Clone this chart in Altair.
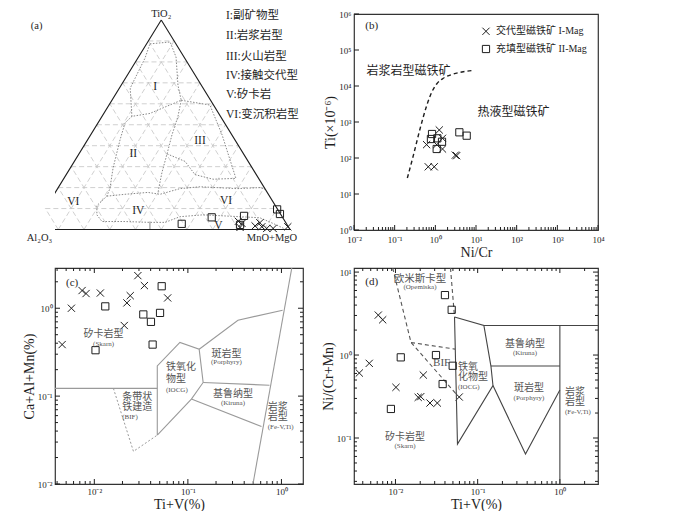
import math
import altair as alt
import pandas as pd

SERIF = "Liberation Serif, Noto Sans CJK SC, serif"
INK = "#1e1e1e"
MID = "#555555"
CROSS = "M-1,-1L1,1M-1,1L1,-1"
SQ3 = math.sqrt(3) / 2
WL, WR, HH = 248, 244, 216

# ---------------- (a) ternary TiO2 - Al2O3 - (MnO+MgO) ----------------
A_GRID = [10, 20, 30, 40, 50, 60, 70, 80, 90]
# field boundaries as (TiO2 %, MnO+MgO %)
A_FIELD_I = [(88.6, 1.3), (89.5, 8.7), (82.3, 14.6), (68.8, 22.1), (61.7, 26.9), (58.5, 22.3),
             (55.4, 17.9), (54.0, 11.6), (67.5, 4.2), (81.8, 2.8), (88.6, 1.3)]
A_LINE_II_IV_V = [(54.0, 11.6), (50.9, 10.5), (42.8, 12.6), (29.4, 16.6), (19.5, 20.3), (15.9, 20.9),
                  (11.4, 19.3), (7.0, 21.5), (3.8, 25.1), (3.8, 34.0), (3.4, 43.9), (3.4, 49.8),
                  (6.1, 54.2), (7.0, 62.7), (6.1, 77.5), (5.6, 85.5), (2.5, 92.9), (0.2, 98.0)]
A_LINE_IV_VI = [(15.9, 20.9), (16.8, 27.5), (17.7, 36.0), (16.8, 41.1), (19.5, 47.5), (20.4, 54.8),
                (19.5, 69.7), (20.0, 78.3), (19.1, 80.9)]
A_LINE_II_III = [(61.7, 26.9), (54.0, 29.5), (45.1, 31.6), (36.1, 34.2), (27.1, 36.7), (17.7, 39.9)]
A_FIELD_III = [(61.7, 26.9), (59.4, 39.2), (45.1, 51.1), (24.4, 66.8), (24.0, 58.1), (26.2, 50.0),
               (32.5, 43.0), (36.1, 34.2)]
A_BASE_MARK = [(3.8, 43.7), (0.0, 45.6)]
A_REGION_TEXT = ["I", "II", "III", "IV", "V", "VI", "VI"]
A_REGION_TI = [67.9, 36.1, 42.1, 8.9, 1.7, 12.9, 13.7]
A_REGION_MM = [13.7, 21.1, 44.0, 36.6, 71.3, 9.4, 68.3]
A_SQ_TI = [2.7, 5.8, 6.5, 2.2, 9.6, 7.4]
A_SQ_MM = [56.6, 66.7, 78.9, 79.5, 90.2, 92.4]
A_X_TI = [3.9, 1.0, 2.9, 1.7, 3.2, 1.3, 0.5, 0.5, 1.3]
A_X_MM = [78.0, 80.1, 79.9, 85.6, 86.7, 88.4, 90.7, 93.2, 98.5]
A_NOTE_TEXT = ["TiO₂", "Al₂O₃", "MnO+MgO", "(a)"]
A_NOTE_X = [0.5, 0.027, 0.930, 0.016]
A_NOTE_Y = [0.8915, -0.0352, -0.0352, 0.8400]
A_LEG_TEXT = ["I:副矿物型", "II:岩浆岩型", "III:火山岩型", "IV:接触交代型", "V:矽卡岩", "VI:变沉积岩型"]
A_LEG_X = 0.7515
A_LEG_Y = [0.8838, 0.7986, 0.7130, 0.6357, 0.5559, 0.4733]

# ---------------- (b) Ni/Cr vs Ti ----------------
B_I_X = [0.61, 1.25, 1.08, 1.5, 1.5, 3.35, 3.1, 0.67, 0.94]
B_I_Y = [235, 600, 235, 352, 178, 116, 120, 57, 57]
B_II_X = [0.83, 0.78, 1.12, 1.46, 1.08, 3.9, 5.9]
B_II_Y = [464, 337, 352, 283, 178, 517, 417]
B_CURVE_X = [0.205, 0.287, 0.42, 0.613, 0.814, 1.08, 1.57, 2.77, 4.87, 8.93]
B_CURVE_Y = [27.8, 116, 640, 2840, 6680, 11370, 16400, 21500, 24900, 27300]
B_XTICKS = [0.01, 0.1, 1, 10, 100, 1000, 10000]
B_XLABELS = ["10⁻²", "10⁻¹", "10⁰", "10¹", "10²", "10³", "10⁴"]
B_YTICKS = [1, 10, 100, 1000, 10000, 100000, 1000000]
B_YLABELS = ["10⁰", "10¹", "10²", "10³", "10⁴", "10⁵", "10⁶"]
B_TEXT = ["(b)", "岩浆岩型磁铁矿", "热液型磁铁矿"]
B_TEXT_X = [0.0272, 0.219, 83.6]
B_TEXT_Y = [473000, 26600, 1900]
B_LEG_TEXT = ["交代型磁铁矿 I-Mag", "充填型磁铁矿 II-Mag"]
B_LEG_SYM_X = 17.6
B_LEG_TXT_X = 31.0
B_LEG_Y = [331000, 106600]

# ---------------- (c) Ti+V vs Ca+Al+Mn ----------------
C_I_X = [0.00453, 0.00569, 0.0074, 0.00816, 0.0116, 0.0209, 0.0223, 0.0242, 0.0292, 0.0343, 0.0608]
C_I_Y = [0.386, 1.0, 1.59, 1.47, 1.49, 0.636, 1.15, 1.39, 2.35, 1.81, 1.31]
C_II_X = [0.0131, 0.0103, 0.0334, 0.0403, 0.0504, 0.0525, 0.042]
C_II_Y = [1.05, 0.333, 0.85, 0.70, 0.885, 1.78, 0.386]
C_SOLID = [
    [(0.003, 0.1224), (0.0471, 0.1224)],
    [(0.0471, 0.036), (0.0471, 0.221), (0.0822, 0.408), (0.132, 0.342), (0.1456, 0.143),
     (0.109, 0.0925), (0.0471, 0.036)],
    [(0.132, 0.342), (0.343, 0.731), (1.03, 0.949)],
    [(0.1456, 0.143), (0.745, 0.133)],
    [(0.109, 0.0925), (0.612, 0.045)],
    [(0.496, 0.01), (1.29, 2.87)],
]
C_DOTTED = [[(0.016, 0.1224), (0.0262, 0.0235), (0.0471, 0.036)]]
C_XTICKS = [0.01, 0.1, 1]
C_XLABELS = ["10⁻²", "10⁻¹", "10⁰"]
C_YTICKS = [0.01, 0.1, 1]
C_YLABELS = ["10⁻²", "10⁻¹", "10⁰"]
C_CTEXT = [("(c)", 0.0058, 1.96, 11, INK), ("矽卡岩型", 0.01256, 0.507, 10, MID),
           ("(Skarn)", 0.01256, 0.395, 7, MID), ("斑岩型", 0.258, 0.300, 10, MID),
           ("(Porphyry)", 0.258, 0.2415, 7, MID), ("基鲁纳型", 0.303, 0.1054, 10, MID),
           ("(Kiruna)", 0.303, 0.0832, 7, MID)]
C_LTEXT = [("铁氧化", 0.0583, 0.212, 10), ("物型", 0.0583, 0.158, 10), ("(IOCG)", 0.0583, 0.117, 7),
           ("条带状", 0.0199, 0.0966, 10), ("铁建造", 0.0199, 0.0744, 10), ("(BIF)", 0.0199, 0.0573, 7),
           ("岩浆", 0.714, 0.0744, 10), ("岩型", 0.714, 0.0573, 10), ("(Fe-V,Ti)", 0.714, 0.0441, 7)]

# ---------------- (d) Ti+V vs Ni/(Cr+Mn) ----------------
D_I_X = [0.00363, 0.0048, 0.00618, 0.00699, 0.01014, 0.0218, 0.0189, 0.0203, 0.0263, 0.0323, 0.0597]
D_I_Y = [0.607, 0.794, 3.03, 2.66, 0.408, 0.574, 0.309, 0.315, 0.264, 0.264, 0.312]
D_II_X = [0.040, 0.0483, 0.0116, 0.0311, 0.0497, 0.0375, 0.0088]
D_II_Y = [5.28, 3.51, 0.938, 1.0, 0.743, 0.447, 0.224]
D_SOLID = [
    [(0.0523, 2.87), (0.119, 2.27), (0.145, 0.737), (0.1535, 0.429), (0.0568, 0.0847), (0.0523, 2.87)],
    [(0.119, 2.27), (3.5, 2.27)],
    [(0.145, 0.737), (1.0, 0.737)],
    [(1.0, 2.27), (1.0, 0.02)],
    [(0.1535, 0.429), (0.382, 0.0641), (1.0, 0.379)],
]
D_DASHED = [
    [(0.00925, 11.2), (0.01546, 1.415), (0.0537, 0.348)],
    [(0.01546, 1.415), (0.053, 1.18)],
    [(0.0467, 11.2), (0.0523, 2.87)],
]
D_XTICKS = [0.01, 0.1, 1]
D_XLABELS = ["10⁻²", "10⁻¹", "10⁰"]
D_YTICKS = [0.1, 1, 10]
D_YLABELS = ["10⁻¹", "10⁰", "10¹"]
D_CTEXT = [("(d)", 0.00513, 7.51, 11, INK), ("欧米斯卡型", 0.01986, 8.24, 10.5, MID),
           ("(Opemiska)", 0.01986, 6.6, 7, MID), ("基鲁纳型", 0.376, 1.357, 10, MID),
           ("(Kiruna)", 0.376, 1.057, 7, MID), ("BIF", 0.0365, 0.801, 11, MID),
           ("斑岩型", 0.421, 0.397, 10, MID), ("(Porphyry)", 0.421, 0.303, 7, MID),
           ("矽卡岩型", 0.01305, 0.102, 10, MID), ("(Skarn)", 0.01305, 0.0794, 7, MID)]
D_LTEXT = [("铁氧", 0.0575, 0.711, 10), ("化物型", 0.0575, 0.539, 10), ("(IOCG)", 0.0575, 0.408, 7),
           ("岩浆", 1.153, 0.361, 10), ("岩型", 1.153, 0.269, 10), ("(Fe-V,Ti)", 1.153, 0.204, 7)]


# ---------------- helpers ----------------
def label_expr(vals, labels):
    expr = "''"
    for v, lab in reversed(list(zip(vals, labels))):
        expr = f"(datum.value == {v!r} ? '{lab}' : {expr})"
    return expr


def log_axis(vals, labels, title, pad=3):
    return alt.Axis(values=vals, labelExpr=label_expr(vals, labels), ticks=False, domain=False,
                    grid=False, labelFont=SERIF, labelFontSize=9, labelColor=INK, labelPadding=pad,
                    labelFlush=False, labelOverlap=False, title=title, titleFont=SERIF,
                    titleFontSize=14, titleFontWeight="normal", titleColor=INK, titlePadding=1)


def decades(lo, hi):
    major, minor = [], []
    for k in range(-4, 8):
        for m in range(1, 10):
            v = float(f"{m}e{k}")
            if lo * 0.999 <= v <= hi * 1.001:
                (major if m == 1 else minor).append(v)
    return major, minor


class Panel:
    def __init__(self, xs, ys, xa, ya, W, H):
        self.xs, self.ys, self.xa, self.ya, self.W, self.H = xs, ys, xa, ya, W, H

    def X(self, f="x"):
        return alt.X(f"{f}:Q", scale=self.xs, axis=self.xa)

    def Y(self, f="y"):
        return alt.Y(f"{f}:Q", scale=self.ys, axis=self.ya)


def tick_layer(P, vals, ch, side, length):
    df = pd.DataFrame({"v": vals})
    base = alt.Chart(df).mark_rule(color=INK, strokeWidth=1)
    if ch == "x":
        enc = dict(x=P.X("v"))
        if side == "bottom":
            enc.update(y=alt.value(P.H), y2=alt.value(P.H - length))
        else:
            enc.update(y=alt.value(0), y2=alt.value(length))
    else:
        enc = dict(y=P.Y("v"))
        if side == "left":
            enc.update(x=alt.value(0), x2=alt.value(length))
        else:
            enc.update(x=alt.value(P.W), x2=alt.value(P.W - length))
    return base.encode(**enc)


def all_ticks(P, xdom, ydom, sides):
    xmaj, xmin = decades(*xdom)
    ymaj, ymin = decades(*ydom)
    out = []
    for side, minor in sides:
        if side in ("bottom", "top"):
            out.append(tick_layer(P, xmaj, "x", side, 5))
            if minor:
                out.append(tick_layer(P, xmin, "x", side, 3))
        else:
            out.append(tick_layer(P, ymaj, "y", side, 5))
            if minor:
                out.append(tick_layer(P, ymin, "y", side, 3))
    return out


def poly_df(lines):
    rows = []
    for i, pts in enumerate(lines):
        for j, (x, y) in enumerate(pts):
            rows.append({"seg": i, "o": j, "x": x, "y": y})
    return pd.DataFrame(rows)


def line_layer(P, lines, color, width, dash=None, interp=None):
    kw = dict(color=color, strokeWidth=width, clip=True)
    if dash:
        kw["strokeDash"] = dash
    if interp:
        kw["interpolate"] = interp
    return alt.Chart(poly_df(lines)).mark_line(**kw).encode(
        x=P.X(), y=P.Y(), detail="seg:N", order="o:Q")


def pts_layer(P, xv, yv, shape):
    df = pd.DataFrame({"x": xv, "y": yv})
    return alt.Chart(df).mark_point(shape=shape, size=52, filled=False, color=INK, strokeWidth=1,
                                    opacity=1).encode(x=P.X(), y=P.Y())


def text_layer(P, items, align, color=None):
    if color is not None:
        df = pd.DataFrame(items, columns=["t", "x", "y", "fs"])
        df["c"] = color
    else:
        df = pd.DataFrame(items, columns=["t", "x", "y", "fs", "c"])
    return alt.Chart(df).mark_text(align=align, baseline="middle", font=SERIF).encode(
        x=P.X(), y=P.Y(), text="t:N", size=alt.Size("fs:Q", scale=None, legend=None),
        color=alt.Color("c:N", scale=None, legend=None))


# ---------------- panel (a) ----------------
def tern(ti, mm):
    return mm / 100 + ti / 200, ti / 100 * SQ3


PA = Panel(alt.Scale(domain=[0.0874, 1.0505], nice=False, zero=False),
           alt.Scale(domain=[-0.0021, 0.8908], nice=False, zero=False), None, None, WL, HH)

grid_rows = []
for g in A_GRID:
    for p, q in ((tern(g, 0), tern(g, 100 - g)), (tern(0, g), tern(100 - g, g)),
                 (tern(0, 100 - g), tern(100 - g, 0))):
        grid_rows.append({"x": p[0], "y": p[1], "x2": q[0], "y2": q[1]})
a_grid = alt.Chart(pd.DataFrame(grid_rows)).mark_rule(
    color="#c4c4c4", strokeWidth=0.8, strokeDash=[5, 3]).encode(
    x=PA.X(), y=PA.Y(), x2="x2:Q", y2="y2:Q")


def tern_lines(lines):
    return [[tern(t, m) for t, m in pts] for pts in lines]


a_tri = line_layer(PA, [[tern(100, 0), tern(0, 0), tern(0, 100), tern(100, 0)]], INK, 1.1)
a_fields = line_layer(PA, tern_lines([A_FIELD_I, A_LINE_II_IV_V, A_LINE_IV_VI, A_LINE_II_III, A_FIELD_III]),
                      "#7a7a7a", 0.9, [1.5, 1.5])
a_mark = line_layer(PA, tern_lines([A_BASE_MARK]), "#999999", 1.2)
a_sq = pts_layer(PA, [tern(t, m)[0] for t, m in zip(A_SQ_TI, A_SQ_MM)],
                 [tern(t, m)[1] for t, m in zip(A_SQ_TI, A_SQ_MM)], "square")
a_x = pts_layer(PA, [tern(t, m)[0] for t, m in zip(A_X_TI, A_X_MM)],
                [tern(t, m)[1] for t, m in zip(A_X_TI, A_X_MM)], CROSS)
a_region = text_layer(PA, [(s, *tern(t, m), 11.5) for s, t, m in zip(A_REGION_TEXT, A_REGION_TI, A_REGION_MM)],
                      "center", INK)
a_notes = text_layer(PA, [(s, x, y, 10.5) for s, x, y in zip(A_NOTE_TEXT, A_NOTE_X, A_NOTE_Y)], "center", INK)
a_leg = text_layer(PA, [(s, A_LEG_X, y, 11.5) for s, y in zip(A_LEG_TEXT, A_LEG_Y)], "left", INK)
panel_a = alt.layer(a_grid, a_fields, a_mark, a_tri, a_sq, a_x, a_region, a_notes, a_leg).properties(
    width=WL, height=HH, view=alt.ViewBackground(strokeOpacity=0))

# ---------------- panel (b) ----------------
BXD, BYD = [0.01, 10000], [1, 1000000]
PB = Panel(alt.Scale(type="log", domain=BXD, nice=False), alt.Scale(type="log", domain=BYD, nice=False),
           log_axis(B_XTICKS, B_XLABELS, "Ni/Cr", 5), log_axis(B_YTICKS, B_YLABELS, "Ti(×10⁻⁶)"), WR, HH)
b_curve = line_layer(PB, [list(zip(B_CURVE_X, B_CURVE_Y))], INK, 1.4, [4, 3], "monotone")
b_x = pts_layer(PB, B_I_X, B_I_Y, CROSS)
b_sq = pts_layer(PB, B_II_X, B_II_Y, "square")
b_leg_x = pts_layer(PB, [B_LEG_SYM_X], [B_LEG_Y[0]], CROSS)
b_leg_sq = pts_layer(PB, [B_LEG_SYM_X], [B_LEG_Y[1]], "square")
b_text = text_layer(PB, [("(b)", B_TEXT_X[0], B_TEXT_Y[0], 11), (B_TEXT[1], B_TEXT_X[1], B_TEXT_Y[1], 12),
                         (B_TEXT[2], B_TEXT_X[2], B_TEXT_Y[2], 12)], "center", INK)
b_leg_t = text_layer(PB, [(s, B_LEG_TXT_X, y, 10) for s, y in zip(B_LEG_TEXT, B_LEG_Y)], "left", INK)
b_ticks = all_ticks(PB, BXD, BYD, [("bottom", True), ("left", False)])
panel_b = alt.layer(b_x, *b_ticks, b_curve, b_sq, b_leg_x, b_leg_sq, b_text, b_leg_t).properties(
    width=WR, height=HH)

# ---------------- panel (c) ----------------
CXD, CYD = [0.0038, 1.7], [0.01, 2.87]
PC = Panel(alt.Scale(type="log", domain=CXD, nice=False), alt.Scale(type="log", domain=CYD, nice=False),
           log_axis(C_XTICKS, C_XLABELS, "Ti+V(%)"), log_axis(C_YTICKS, C_YLABELS, "Ca+Al+Mn(%)"), WL, HH)
c_solid = line_layer(PC, C_SOLID, "#9a9a9a", 1.1)
c_dot = line_layer(PC, C_DOTTED, "#9a9a9a", 1.0, [2, 2])
c_x = pts_layer(PC, C_I_X, C_I_Y, CROSS)
c_sq = pts_layer(PC, C_II_X, C_II_Y, "square")
c_ct = text_layer(PC, C_CTEXT, "center")
c_lt = text_layer(PC, C_LTEXT, "left", MID)
c_ticks = all_ticks(PC, CXD, CYD, [("bottom", True), ("top", True), ("left", True), ("right", True)])
panel_c = alt.layer(c_x, *c_ticks, c_solid, c_dot, c_sq, c_ct, c_lt).properties(width=WL, height=HH)

# ---------------- panel (d) ----------------
DXD, DYD = [0.00313, 2.91], [0.0279, 11.2]
PD = Panel(alt.Scale(type="log", domain=DXD, nice=False), alt.Scale(type="log", domain=DYD, nice=False),
           log_axis(D_XTICKS, D_XLABELS, "Ti+V(%)"), log_axis(D_YTICKS, D_YLABELS, "Ni/(Cr+Mn)"), WR, HH)
d_solid = line_layer(PD, D_SOLID, "#444444", 1.1)
d_dash = line_layer(PD, D_DASHED, "#555555", 1.1, [4, 3])
d_x = pts_layer(PD, D_I_X, D_I_Y, CROSS)
d_sq = pts_layer(PD, D_II_X, D_II_Y, "square")
d_ct = text_layer(PD, D_CTEXT, "center")
d_lt = text_layer(PD, D_LTEXT, "left", MID)
d_ticks = all_ticks(PD, DXD, DYD, [("bottom", True), ("top", True), ("left", True), ("right", True)])
panel_d = alt.layer(d_x, *d_ticks, d_solid, d_dash, d_sq, d_ct, d_lt).properties(width=WR, height=HH)

chart = alt.concat(panel_a, panel_b, panel_c, panel_d, columns=2,
                   spacing=alt.RowColnumber(row=38, column=51), bounds="flush", align="all",
                   padding={"left": 13, "top": 0, "right": 0, "bottom": 0},
                   background="white").configure_view(stroke="#333333", strokeWidth=1.2)

chart.save("out.html", embed_options={"renderer": "svg", "actions": False})
